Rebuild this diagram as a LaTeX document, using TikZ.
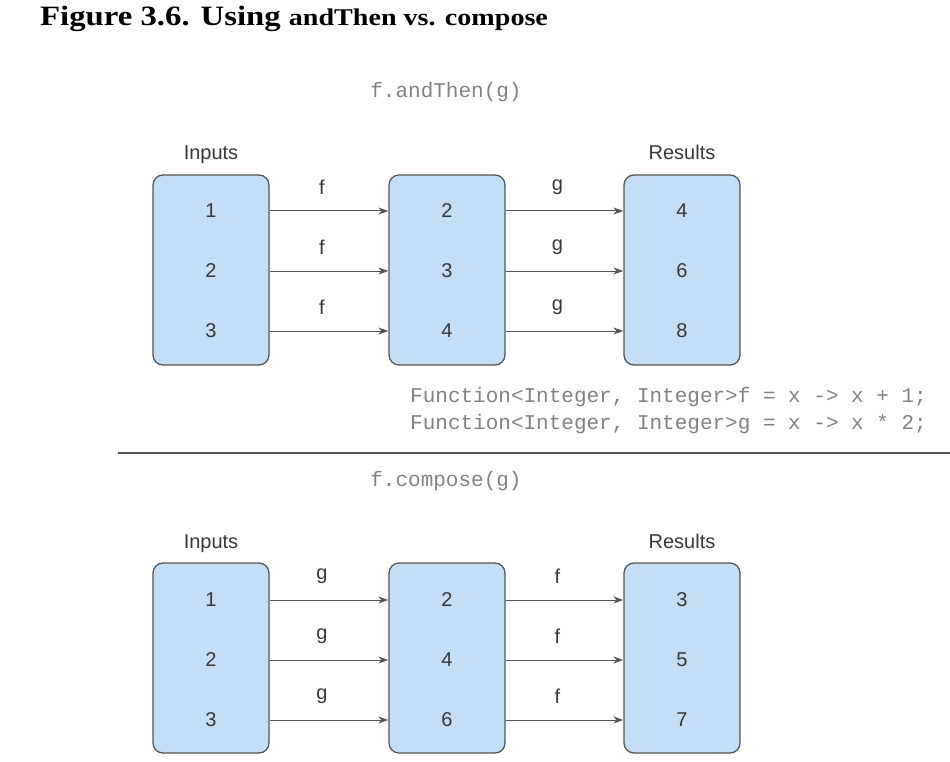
\documentclass[tikz,border=0pt]{standalone}
\usepackage{fontspec}
\setmainfont{Liberation Serif}
\newfontfamily\lsans{Liberation Sans}
\newfontfamily\lmono{Liberation Mono}
\usetikzlibrary{arrows.meta}
\definecolor{boxfill}{RGB}{196,223,245}
\definecolor{boxline}{RGB}{85,85,85}
\definecolor{txt}{RGB}{55,55,55}
\definecolor{codegray}{RGB}{130,130,130}
\tikzset{
  setbox/.style={draw=boxline, line width=1.3pt, fill=boxfill, rounded corners=10pt,
    minimum width=116pt, minimum height=190pt, inner sep=0pt},
  num/.style={font=\lsans\fontsize{20}{24}\selectfont, text=txt, inner sep=0pt},
  lab/.style={font=\lsans\fontsize{20}{24}\selectfont, text=txt, inner sep=0pt, anchor=base},
  fn/.style={font=\lsans\fontsize{20}{24}\selectfont, text=txt, inner sep=0pt, xshift=-7pt},
  code/.style={font=\lmono\fontsize{21}{25}\selectfont, text=codegray, inner sep=0pt},
  arr/.style={draw=boxline, line width=1pt, -{Stealth[length=10pt,width=7pt]}},
}
\begin{document}
\begin{tikzpicture}[x=1pt,y=-1pt]
\useasboundingbox (0,0) rectangle (950,762);
\node[anchor=base west, inner sep=0pt] (title) at (40,26)
  {\scalebox{1.17}[1]{\fontsize{28}{32}\selectfont\bfseries Figure 3.6. Using {\fontsize{24}{28}\selectfont andThen vs. compose}}};

% ---------- top: andThen ----------
\node[code] (t1) at (446,92) {f.andThen(g)};
\node[lab] (inA) at (211,160) {Inputs};
\node[lab] (resA) at (682,160) {Results};
\node[setbox] (A1) at (211,270) {};
\node[setbox] (A2) at (447,270) {};
\node[setbox] (A3) at (682,270) {};
\foreach \i/\y/\a/\b/\c in {1/211/1/2/4, 2/271/2/3/6, 3/331/3/4/8}{
  \node[num] (a1\i) at (211,\y) {\a};
  \node[num] (a2\i) at (447,\y) {\b};
  \node[num] (a3\i) at (682,\y) {\c};
  \draw[arr] (a1\i -| A1.east) -- node[fn, above=16pt] (fa\i) {f} (a2\i -| A2.west);
  \draw[arr] (a2\i -| A2.east) -- node[fn, above=16pt] (ga\i) {g} (a3\i -| A3.west);
}
\node[code, anchor=west] (c1) at (410,397) {Function<Integer, Integer>f = x -> x + 1;};
\node[code, anchor=west] (c2) at (410,424) {Function<Integer, Integer>g = x -> x * 2;};

\coordinate (sepL) at (118,453);
\coordinate (sepR) at (950,453);
\draw[draw=boxline, line width=1.3pt] (sepL) -- (sepR);

% ---------- bottom: compose ----------
\node[code] (t2) at (446,481) {f.compose(g)};
\node[lab] (inB) at (211,548) {Inputs};
\node[lab] (resB) at (682,548) {Results};
\node[setbox] (B1) at (211,658) {};
\node[setbox] (B2) at (447,658) {};
\node[setbox] (B3) at (682,658) {};
\foreach \i/\y/\a/\b/\c in {1/600/1/2/3, 2/660/2/4/5, 3/720/3/6/7}{
  \node[num] (b1\i) at (211,\y) {\a};
  \node[num] (b2\i) at (447,\y) {\b};
  \node[num] (b3\i) at (682,\y) {\c};
  \draw[arr] (b1\i -| B1.east) -- node[fn, above=16pt] (gb\i) {g} (b2\i -| B2.west);
  \draw[arr] (b2\i -| B2.east) -- node[fn, above=16pt] (fb\i) {f} (b3\i -| B3.west);
}
\end{tikzpicture}
\end{document}
